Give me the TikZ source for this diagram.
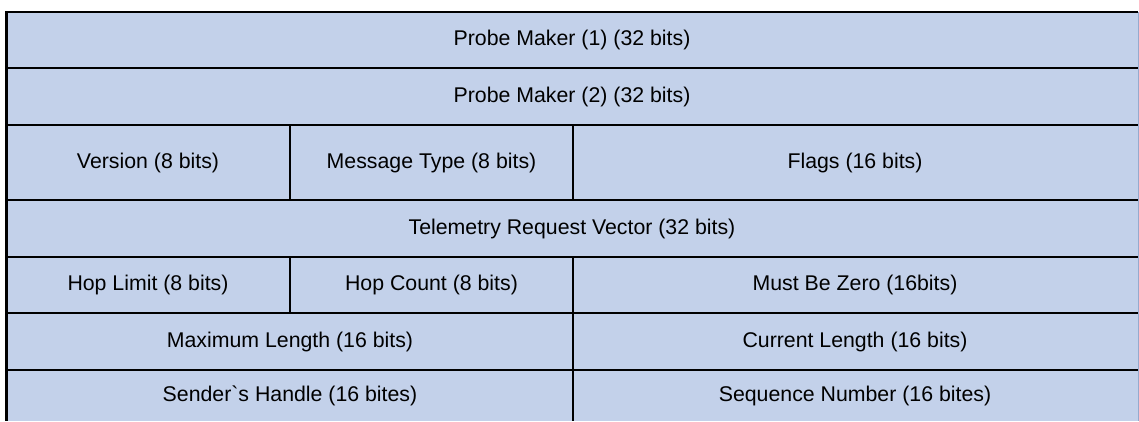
\documentclass[tikz,border=0pt]{standalone}
\usepackage{fontspec}
\setmainfont{Liberation Sans}[Ligatures=TeXOff]
\definecolor{cellfill}{RGB}{195,209,234}
\definecolor{rimblue}{RGB}{150,170,205}
\begin{document}
\begin{tikzpicture}[x=1pt,y=-1pt,
  gridline/.style={line width=2.8pt,black},
  label/.style={font=\fontsize{21.3}{25}\selectfont,text=black,inner sep=0pt,anchor=center}]
\useasboundingbox (0,0) rectangle (1139,421);
\fill[cellfill] (6.5,12) rectangle (1138.5,421);
\draw[rimblue,line width=1pt] (1138.2,12) -- (1138.2,421);
% outer border (top and left)
\draw[gridline,line join=miter] (1137.5,12) -- (6.5,12) -- (6.5,421);
% row lines
\foreach \y in {68,125,200,257,313,370}
  \draw[gridline] (6.5,\y) -- (1137.5,\y);
% column lines
\draw[gridline] (290,125) -- (290,200);
\draw[gridline] (290,257) -- (290,313);
\draw[gridline] (573,125) -- (573,200);
\draw[gridline] (573,257) -- (573,421);
% labels
\node[label] (pm1) at (572,40) {Probe Maker (1) (32 bits)};
\node[label] (pm2) at (572,96.5) {Probe Maker (2) (32 bits)};
\node[label] (ver) at (148,162.5) {Version (8 bits)};
\node[label] (mt) at (431.5,162.5) {Message Type (8 bits)};
\node[label] (fl) at (855,162.5) {Flags (16 bits)};
\node[label] (trv) at (572,228.5) {Telemetry Request Vector (32 bits)};
\node[label] (hl) at (148,285) {Hop Limit (8 bits)};
\node[label] (hc) at (431.5,285) {Hop Count (8 bits)};
\node[label] (mbz) at (855,285) {Must Be Zero (16bits)};
\node[label] (ml) at (290,341.5) {Maximum Length (16 bits)};
\node[label] (cl) at (855,341.5) {Current Length (16 bits)};
\node[label] (sh) at (290,396) {Sender`s Handle (16 bites)};
\node[label] (sn) at (855,396) {Sequence Number (16 bites)};
\end{tikzpicture}
\end{document}
